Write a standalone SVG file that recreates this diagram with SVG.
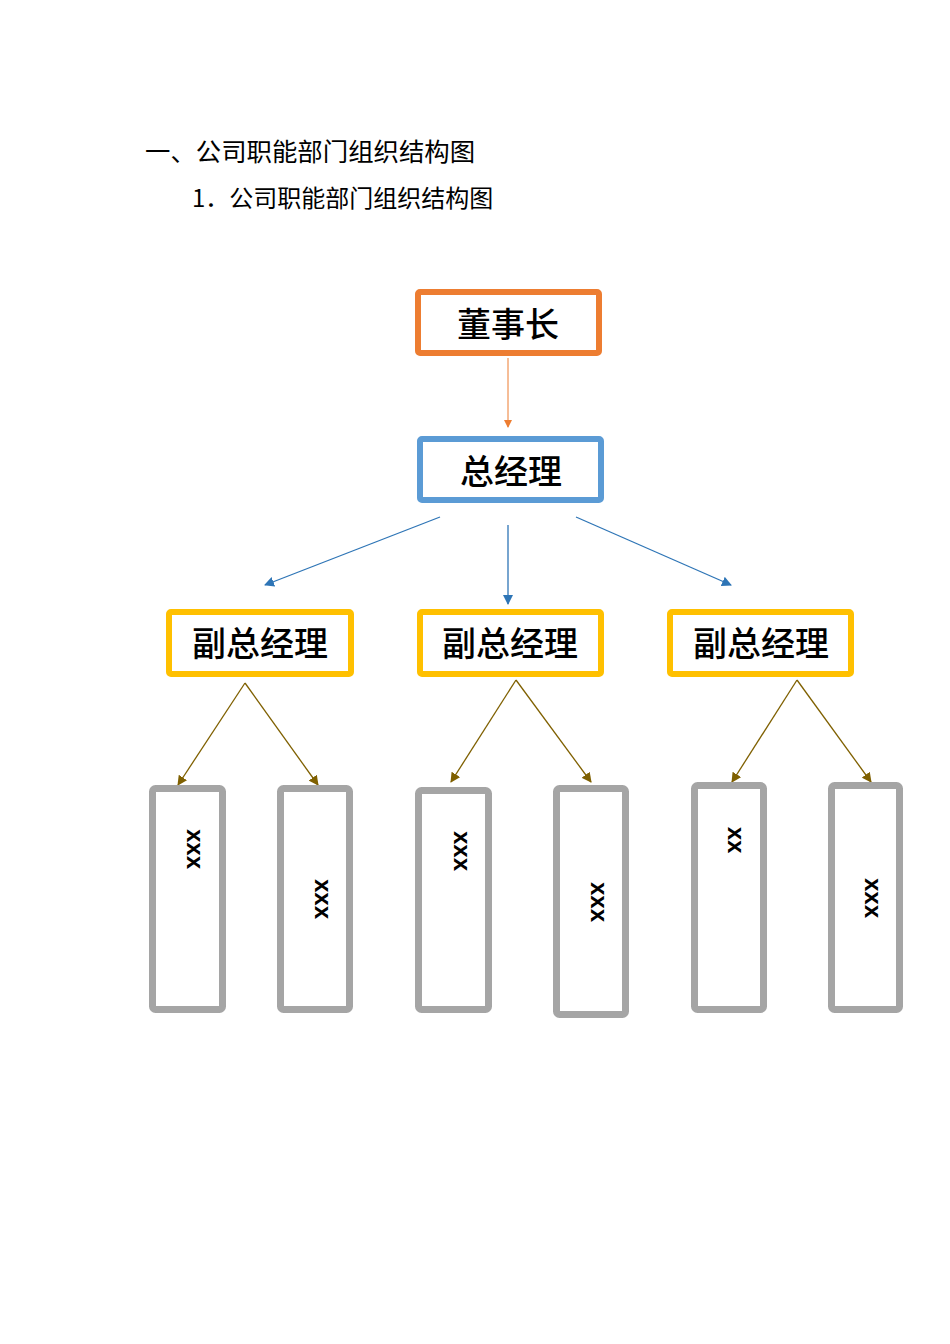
<svg xmlns="http://www.w3.org/2000/svg" width="950" height="1344" viewBox="0 0 950 1344">
<style>
.title{font-family:"Noto Sans CJK SC","Noto Sans",sans-serif;fill:#000}
.lbl{font-family:"Noto Sans CJK SC",sans-serif;font-size:34px;font-weight:500;fill:#000;text-anchor:middle;dominant-baseline:central}
.box{fill:#fff;stroke-width:6}
.gbox{fill:#fff;stroke:#A5A5A5;stroke-width:7}
.xx{font-family:"Liberation Sans",Arial,sans-serif;font-size:24px;font-weight:bold;fill:#000;text-anchor:middle;dominant-baseline:central}
</style>
<defs>
<marker id="ao" markerWidth="8" markerHeight="8" refX="7" refY="4" orient="auto" markerUnits="userSpaceOnUse"><path d="M0,0 L8,4 L0,8 z" fill="#ED7D31"/></marker>
<marker id="ab" markerWidth="10" markerHeight="10" refX="9" refY="5" orient="auto" markerUnits="userSpaceOnUse"><path d="M0,0 L10,5 L0,10 z" fill="#2E75B6"/></marker>
<marker id="an" markerWidth="10" markerHeight="10" refX="9" refY="5" orient="auto" markerUnits="userSpaceOnUse"><path d="M0,0 L10,5 L0,10 z" fill="#7F6000"/></marker>
</defs>
<rect width="950" height="1344" fill="#fff"/>
<text class="title" x="145" y="161" font-size="25.4">一、公司职能部门组织结构图</text>
<text class="title" x="192" y="207" font-size="24">1．公司职能部门组织结构图</text>

<g id="connectors" fill="none">
<line x1="508" y1="358" x2="508" y2="427" stroke="#ED7D31" stroke-width="1" marker-end="url(#ao)"/>
<line x1="440" y1="517" x2="265" y2="585" stroke="#2E75B6" stroke-width="1.3" marker-end="url(#ab)"/>
<line x1="508" y1="525" x2="508" y2="604" stroke="#2E75B6" stroke-width="1.3" marker-end="url(#ab)"/>
<line x1="576" y1="517" x2="731" y2="585" stroke="#2E75B6" stroke-width="1.3" marker-end="url(#ab)"/>
<line x1="245" y1="683" x2="178" y2="785" stroke="#7F6000" stroke-width="1.3" marker-end="url(#an)"/>
<line x1="245" y1="683" x2="318" y2="785" stroke="#7F6000" stroke-width="1.3" marker-end="url(#an)"/>
<line x1="516" y1="680" x2="451" y2="782" stroke="#7F6000" stroke-width="1.3" marker-end="url(#an)"/>
<line x1="516" y1="680" x2="591" y2="782" stroke="#7F6000" stroke-width="1.3" marker-end="url(#an)"/>
<line x1="797" y1="680" x2="732" y2="782" stroke="#7F6000" stroke-width="1.3" marker-end="url(#an)"/>
<line x1="797" y1="680" x2="871" y2="782" stroke="#7F6000" stroke-width="1.3" marker-end="url(#an)"/>
</g>

<g id="chairman">
<rect class="box" x="418" y="292" width="181" height="61" rx="2" stroke="#ED7D31"/>
<text class="lbl" x="508" y="322">董事长</text>
</g>
<g id="gm">
<rect class="box" x="420" y="439" width="181" height="61" rx="2" stroke="#5B9BD5"/>
<text class="lbl" x="511" y="469">总经理</text>
</g>
<g id="vp1">
<rect class="box" x="169" y="612" width="182" height="62" rx="2" stroke="#FFC000"/>
<text class="lbl" x="260" y="641">副总经理</text>
</g>
<g id="vp2">
<rect class="box" x="420" y="612" width="181" height="62" rx="2" stroke="#FFC000"/>
<text class="lbl" x="510" y="641">副总经理</text>
</g>
<g id="vp3">
<rect class="box" x="670" y="612" width="181" height="62" rx="2" stroke="#FFC000"/>
<text class="lbl" x="761" y="641">副总经理</text>
</g>

<g id="d1">
<rect class="gbox" x="152.5" y="788.5" width="70" height="221" rx="3"/>
<text class="xx" transform="translate(195,849) rotate(90)">xxx</text>
</g>
<g id="d2">
<rect class="gbox" x="280.5" y="788.5" width="69" height="221" rx="3"/>
<text class="xx" transform="translate(323,899) rotate(90)">xxx</text>
</g>
<g id="d3">
<rect class="gbox" x="418.5" y="790.5" width="70" height="219" rx="3"/>
<text class="xx" transform="translate(462,851) rotate(90)">xxx</text>
</g>
<g id="d4">
<rect class="gbox" x="556.5" y="788.5" width="69" height="226" rx="3"/>
<text class="xx" transform="translate(599,902) rotate(90)">xxx</text>
</g>
<g id="d5">
<rect class="gbox" x="694.5" y="785.5" width="69" height="224" rx="3"/>
<text class="xx" transform="translate(736,840) rotate(90)">xx</text>
</g>
<g id="d6">
<rect class="gbox" x="831.5" y="785.5" width="68" height="224" rx="3"/>
<text class="xx" transform="translate(873,898) rotate(90)">xxx</text>
</g>
</svg>
